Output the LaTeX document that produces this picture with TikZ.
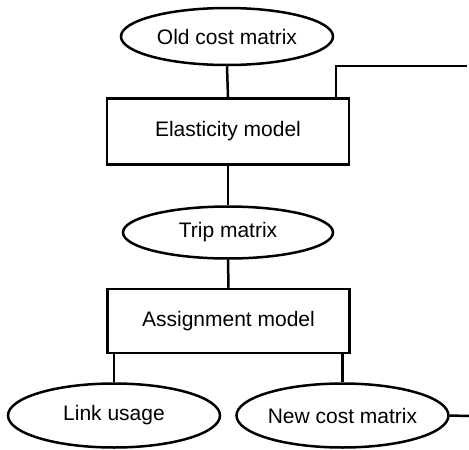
\documentclass[tikz,border=0pt]{standalone}
\usepackage{fontspec}
\setmainfont{Liberation Sans}
\usetikzlibrary{shapes.geometric}
\begin{document}
\begin{tikzpicture}[x=1pt,y=-1pt,
  line width=2.5pt,
  txt/.style={font=\fontsize{21}{25}\selectfont, inner sep=0pt},
  oval/.style={txt, draw, ellipse, minimum width=212pt, minimum height=57pt},
  modelbox/.style={txt, draw, rectangle, minimum width=242pt, minimum height=66pt}]
  \useasboundingbox (0,0) rectangle (469,450);

  % flow nodes
  \node[oval] (old) at (227,36.5) {Old cost matrix};
  \node[modelbox] (elast) at (228,131.5) {Elasticity model};
  \node[oval, minimum width=210pt, minimum height=52pt] (trip) at (228,232.5) {Trip matrix};
  \node[modelbox, minimum height=64pt] (assign) at (228.5,321) {Assignment model};
  \node[oval, minimum height=64pt] (link) at (114,415.5) {Link usage};
  \node[oval, minimum height=64pt] (newc) at (342.5,415.5) {New cost matrix};

  % feedback ends
  \coordinate (fbtop) at (467,66);
  \coordinate (fbbot) at (469,416);

  % connectors
  \draw (old.south) -- (elast.north);
  \draw (elast.south) -- (trip.north);
  \draw (trip.south) -- (assign.north);
  \draw (assign.south -| link.north) -- (link.north);
  \draw (assign.south -| newc.north) -- (newc.north);
  \draw ([xshift=108pt]elast.north) |- (fbtop);
  \draw (newc.east) -- (fbbot);
\end{tikzpicture}
\end{document}
